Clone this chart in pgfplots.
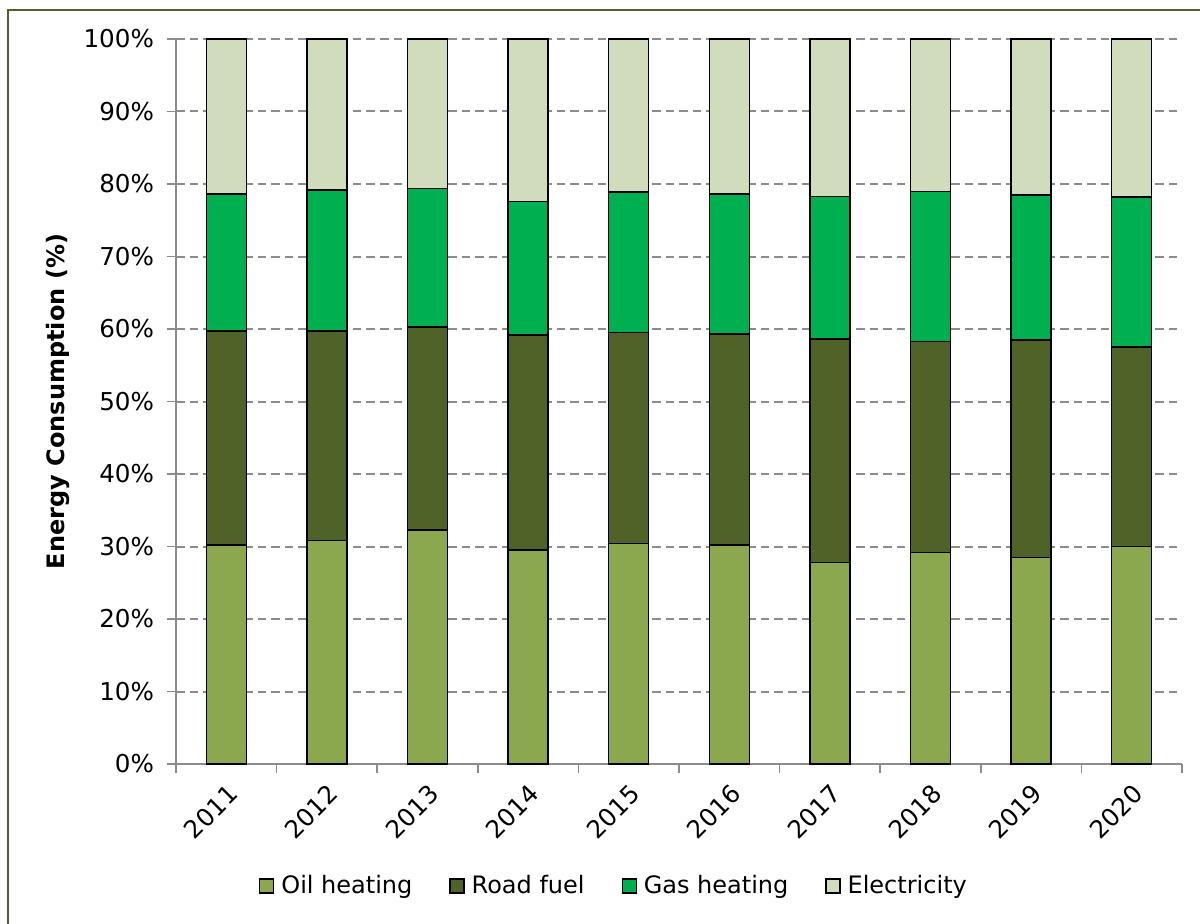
\documentclass[border=0pt]{standalone}
\usepackage{fontspec}
\setmainfont{DejaVu Sans}
\usepackage{pgfplots}
\pgfplotsset{compat=1.18}
\definecolor{oil}{HTML}{8CA84F}
\definecolor{road}{HTML}{4F6228}
\definecolor{gas}{HTML}{00B050}
\definecolor{elec}{HTML}{D0DCBC}
\definecolor{axisgray}{HTML}{8C8C8C}
\definecolor{frame}{HTML}{4F6228}
\begin{document}
\begin{tikzpicture}
\useasboundingbox (0,0) rectangle (600pt,461.5pt);
\draw[color=frame, line width=1pt] (4pt,-2pt) -- (4pt,456.5pt) -- (602pt,456.5pt);
\begin{axis}[
  at={(88pt,79.5pt)}, anchor=south west,
  scale only axis, width=503pt, height=362.5pt,
  ybar stacked, bar width=20pt,
  xmin=-0.5, xmax=9.5, ymin=0, ymax=100,
  axis x line=bottom, axis y line=left,
  axis line style={-, draw=axisgray, line width=0.8pt},
  every outer x axis line/.append style={-},
  every outer y axis line/.append style={-},
  xtick={0,1,...,9},
  xticklabels={{2011},{2012},{2013},{2014},{2015},{2016},{2017},{2018},{2019},{2020}},
  minor xtick={-0.5,0.5,1.5,2.5,3.5,4.5,5.5,6.5,7.5,8.5,9.5},
  major x tick style={draw=none},
  minor x tick style={draw=axisgray, line width=0.8pt},
  ytick={0,10,...,100},
  major y tick style={draw=axisgray, line width=0.8pt},
  tick align=outside,
  major tick length=4.5pt, minor tick length=4.5pt,
  ymajorgrids,
  major grid style={draw=axisgray, line width=1pt, dash pattern=on 4.3pt off 2.5pt},
  yticklabel={\pgfmathprintnumber{\tick}\%},
  /pgf/number format/assume math mode=true,
  tick label style={font=\fontsize{12.3}{14}\selectfont, text=black},
  yticklabel style={xshift=-3pt},
  xticklabel style={rotate=45, anchor=north east},
  ylabel={Energy Consumption (\%)},
  every axis y label/.style={at={(axis description cs:-0.117,0.5)}, rotate=90, anchor=center,
    font=\bfseries\fontsize{12}{14}\selectfont},
  legend style={at={(axis description cs:0.4364,-0.1683)}, anchor=center, draw=none,
    font=\fontsize{12}{14}\selectfont, legend columns=4,
    /tikz/every odd column/.append style={column sep=1.5pt},
    /tikz/every even column/.append style={column sep=16.5pt}},
  legend image code/.code={\draw[#1, draw=black, line width=0.6pt] (0pt,-3.5pt) rectangle (7pt,3.5pt);},
  every axis plot/.append style={draw=black, line width=0.7pt},
]
\addplot[fill=oil] coordinates {(0,30.2) (1,30.8) (2,32.3) (3,29.5) (4,30.4) (5,30.2) (6,27.8) (7,29.2) (8,28.5) (9,30.0)};
\addplot[fill=road] coordinates {(0,29.5) (1,28.9) (2,28.0) (3,29.7) (4,29.1) (5,29.1) (6,30.8) (7,29.1) (8,30.0) (9,27.5)};
\addplot[fill=gas] coordinates {(0,18.9) (1,19.5) (2,19.1) (3,18.4) (4,19.4) (5,19.3) (6,19.7) (7,20.7) (8,20.0) (9,20.7)};
\addplot[fill=elec] coordinates {(0,21.4) (1,20.8) (2,20.6) (3,22.4) (4,21.1) (5,21.4) (6,21.7) (7,21.0) (8,21.5) (9,21.8)};
\legend{Oil heating, Road fuel, Gas heating, Electricity}
\end{axis}
\end{tikzpicture}
\end{document}
